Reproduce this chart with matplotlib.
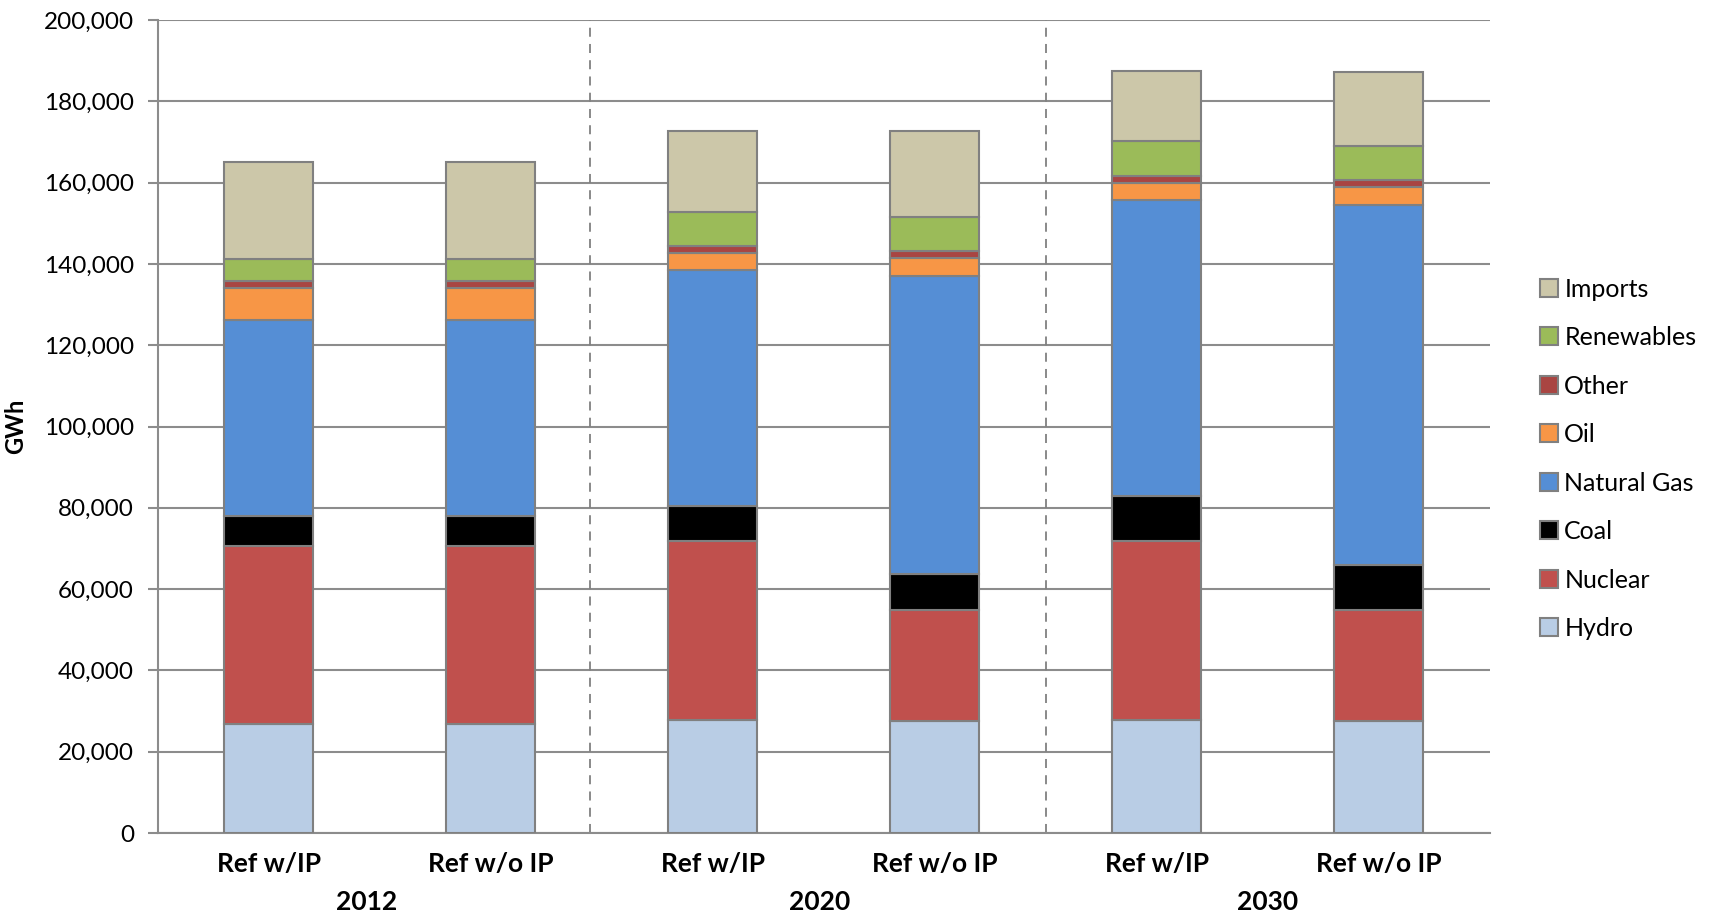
import matplotlib.pyplot as plt
import numpy as np
from matplotlib.patches import Patch

plt.rcParams["font.family"] = ["Lato", "DejaVu Sans"]

scenarios = ["Ref w/IP", "Ref w/o IP", "Ref w/IP", "Ref w/o IP", "Ref w/IP", "Ref w/o IP"]
years = ["2012", "2020", "2030"]

sources = ["Hydro", "Nuclear", "Coal", "Natural Gas", "Oil", "Other", "Renewables", "Imports"]
hydro = [26700, 26700, 27760, 27590, 27820, 27580]
nuclear = [43900, 43900, 44050, 27190, 43950, 27250]
coal = [7400, 7400, 8600, 8840, 11210, 11210]
natural_gas = [48300, 48300, 57990, 73480, 72680, 88550]
oil = [7900, 7900, 4340, 4330, 4340, 4340]
other = [1600, 1600, 1550, 1800, 1720, 1810]
renewables = [5350, 5350, 8510, 8430, 8440, 8360]
imports = [24000, 24000, 19960, 20940, 17220, 18110]

series = [hydro, nuclear, coal, natural_gas, oil, other, renewables, imports]
colors = ["#B9CDE5", "#C0504D", "#000000", "#558ED5", "#F79646", "#A94542", "#9BBB59", "#CCC7A9"]

fig = plt.figure(figsize=(17.09, 9.11), dpi=100)
ax = fig.add_axes([0.0922, 0.0856, 0.7794, 0.8924])

x = np.arange(len(scenarios))
bottom = np.zeros(len(scenarios))
for name, vals, c in zip(sources, series, colors):
    ax.bar(x, vals, width=0.4, bottom=bottom, color=c, edgecolor="#808080",
           linewidth=1.5, label=name, zorder=3)
    bottom += np.array(vals)

ax.set_xlim(-0.5, 5.5)
ax.set_ylim(0, 200000)
ax.set_yticks(np.arange(0, 200001, 20000))
ax.set_yticklabels([f"{v:,}" for v in range(0, 200001, 20000)], fontsize=17.5)
ax.yaxis.grid(True, color="#8c8c8c", linewidth=1.5, zorder=0)
ax.set_axisbelow(True)
ax.tick_params(axis="y", length=7, width=1.5, color="#8c8c8c", pad=10)
ax.tick_params(axis="x", length=0, pad=14)
ax.set_xticks(x)
ax.set_xticklabels(scenarios, fontsize=19, fontweight="bold")

for side in ["top", "right"]:
    ax.spines[side].set_visible(False)
for side in ["left", "bottom"]:
    ax.spines[side].set_color("#8c8c8c")
    ax.spines[side].set_linewidth(1.5)

# dashed separators between year groups
for xs in [1.45, 3.5]:
    ax.axvline(xs, color="#808080", linestyle=(0, (5, 4)), linewidth=1.3, zorder=2)

for xc, yr in zip([0.44, 2.48, 4.5], years):
    ax.text(xc, -0.085, yr, transform=ax.get_xaxis_transform(), ha="center",
            va="center", fontsize=19, fontweight="bold")

ax.set_ylabel("GWh", fontsize=17, fontweight="bold", labelpad=12)

handles = [Patch(facecolor=c, edgecolor="#808080", linewidth=1.5) for c in colors]
ax.legend(handles[::-1], sources[::-1], loc="upper left", bbox_to_anchor=(0.888, 0.72),
          bbox_transform=fig.transFigure, frameon=False, fontsize=18,
          handlelength=0.72, handleheight=0.72, handletextpad=0.25, labelspacing=1.02)

fig.savefig("out.png", dpi=100)
